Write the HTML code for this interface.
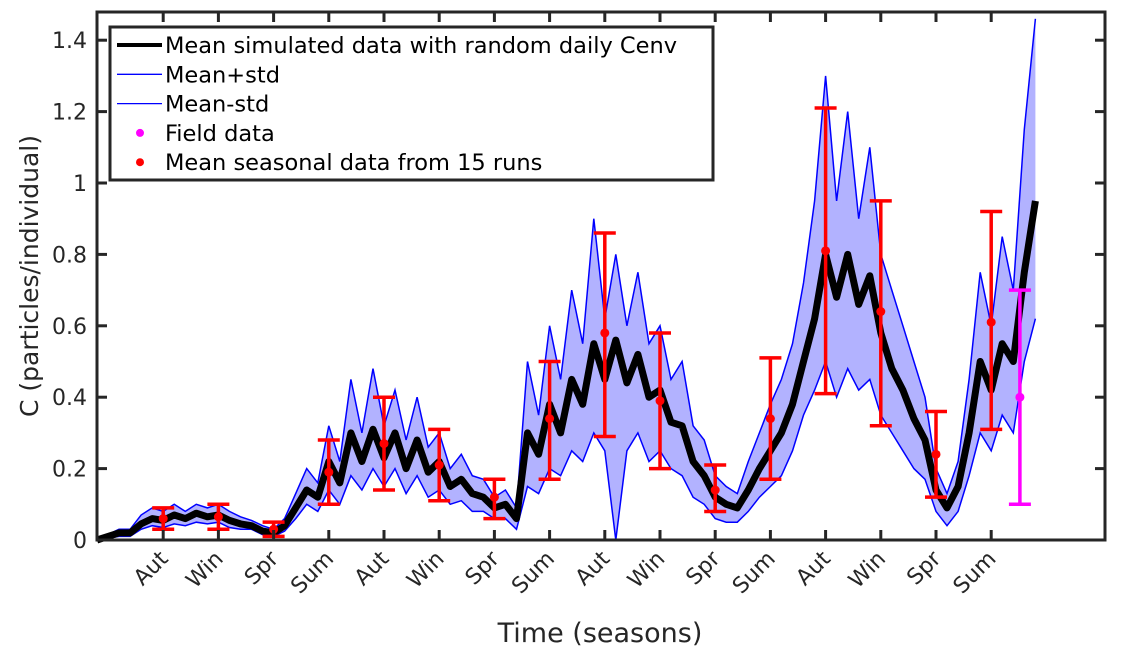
<!DOCTYPE html>
<html><head><meta charset="utf-8"><style>
body{margin:0;background:#fff;}
svg{display:block;font-family:"DejaVu Sans","Liberation Sans",sans-serif;}
</style></head><body>
<svg id="chart" width="1123" height="659" viewBox="0 0 1123 659">
<g id="marks"></g>
<g id="axes"></g>
</svg>
<script>
const seasonLabels=["Aut","Win","Spr","Sum","Aut","Win","Spr","Sum","Aut","Win","Spr","Sum","Aut","Win","Spr","Sum"];
const yTicks=[0,0.2,0.4,0.6,0.8,1,1.2,1.4];
const yTickLabels=["0","0.2","0.4","0.6","0.8","1","1.2","1.4"];
const lineStart=-0.2, lineStep=0.2;
const meanLine=[0.00,0.01,0.02,0.02,0.045,0.06,0.055,0.07,0.06,0.075,
0.065,0.07,0.055,0.045,0.04,0.025,0.02,0.04,0.09,0.14,
0.12,0.22,0.16,0.3,0.22,0.31,0.23,0.3,0.2,0.28,
0.19,0.22,0.15,0.17,0.13,0.12,0.09,0.1,0.06,0.3,
0.24,0.38,0.3,0.45,0.38,0.55,0.45,0.56,0.44,0.52,
0.4,0.42,0.33,0.32,0.22,0.18,0.12,0.1,0.09,0.14,
0.2,0.25,0.3,0.38,0.5,0.62,0.8,0.68,0.8,0.66,
0.74,0.58,0.48,0.42,0.34,0.28,0.14,0.09,0.15,0.3,
0.5,0.42,0.55,0.5,0.75,0.95];
const upperLine=[0.0,0.015,0.03,0.03,0.07,0.09,0.08,0.1,0.08,0.1,
0.09,0.1,0.08,0.065,0.055,0.04,0.03,0.06,0.13,0.2,
0.16,0.32,0.22,0.45,0.3,0.48,0.32,0.42,0.28,0.4,
0.26,0.3,0.2,0.24,0.18,0.17,0.12,0.14,0.09,0.5,
0.35,0.6,0.45,0.7,0.55,0.9,0.62,0.8,0.6,0.75,
0.55,0.6,0.45,0.5,0.32,0.28,0.18,0.15,0.13,0.22,
0.3,0.38,0.45,0.55,0.72,0.95,1.3,0.95,1.2,0.9,
1.1,0.8,0.7,0.6,0.5,0.4,0.2,0.13,0.22,0.45,
0.75,0.6,0.85,0.7,1.15,1.46];
const lowerLine=[0,0.005,0.01,0.01,0.03,0.04,0.035,0.045,0.04,0.05,
0.045,0.05,0.035,0.03,0.03,0.015,0.01,0.025,0.06,0.1,
0.08,0.14,0.1,0.18,0.14,0.2,0.15,0.2,0.13,0.18,
0.12,0.14,0.1,0.11,0.08,0.08,0.06,0.06,0.03,0.15,
0.13,0.2,0.18,0.25,0.22,0.3,0.25,0.0,0.25,0.3,
0.22,0.25,0.2,0.18,0.12,0.1,0.06,0.05,0.05,0.08,
0.12,0.15,0.18,0.25,0.35,0.42,0.5,0.4,0.48,0.42,
0.45,0.35,0.3,0.25,0.2,0.17,0.08,0.04,0.08,0.18,
0.3,0.25,0.35,0.3,0.5,0.62];
const seasonMeans=[0.06,0.065,0.03,0.19,0.27,0.21,0.12,0.34,0.58,0.39,0.14,0.34,0.81,0.64,0.24,0.61];
const seasonLow=[0.03,0.03,0.01,0.1,0.14,0.11,0.06,0.17,0.29,0.2,0.08,0.17,0.41,0.32,0.12,0.31];
const seasonHigh=[0.09,0.1,0.05,0.28,0.4,0.31,0.17,0.5,0.86,0.58,0.21,0.51,1.21,0.95,0.36,0.92];
const fieldX=[16.52];
const fieldMean=[0.40];
const fieldLow=[0.10];
const fieldHigh=[0.70];

const L=97,R=1105,T=12,B=540;
const X0=108,XS=55.2;
const xs=s=>X0+s*XS;
const ys=v=>B-v*(B-T)/1.479;
const NS="http://www.w3.org/2000/svg";
const marks=document.getElementById('marks'), axes=document.getElementById('axes');
function mk(tag,attrs,parent){const e=document.createElementNS(NS,tag);for(const k in attrs)e.setAttribute(k,attrs[k]);parent.appendChild(e);return e;}

function pts(arr){return arr.map((v,i)=>xs(lineStart+i*lineStep).toFixed(1)+' '+ys(v).toFixed(1));}
function pathOf(arr){return pts(arr).map((p,i)=>(i?'L':'M')+p).join(' ');}
const band=mk('path',{d:pathOf(upperLine)+' '+pts(lowerLine).reverse().map(p=>'L'+p).join(' ')+'Z',fill:'#0000ff','fill-opacity':0.3,stroke:'none'},marks);


const up=mk('path',{d:pathOf(upperLine),fill:'none',stroke:'#0000ff','stroke-width':1.5},marks);


const lo=mk('path',{d:pathOf(lowerLine),fill:'none',stroke:'#0000ff','stroke-width':1.5},marks);


const mn=mk('path',{d:pathOf(meanLine),fill:'none',stroke:'#000','stroke-width':7,'stroke-linejoin':'round'},marks);



function errbar(x,m,lw,hi,color,name){
  const g=mk('g',{},marks);
  
  
  const px=xs(x);
  mk('line',{x1:px,x2:px,y1:ys(lw),y2:ys(hi),stroke:color,'stroke-width':3.5},g);
  mk('line',{x1:px-11,x2:px+11,y1:ys(lw),y2:ys(lw),stroke:color,'stroke-width':3.5},g);
  mk('line',{x1:px-11,x2:px+11,y1:ys(hi),y2:ys(hi),stroke:color,'stroke-width':3.5},g);
  mk('circle',{cx:px,cy:ys(m),r:4.5,fill:color},g);
}
seasonMeans.forEach((m,i)=>errbar(i+1,m,seasonLow[i],seasonHigh[i],'#ff0000','seasonal-mean-bar-'+(i+1)));
fieldMean.forEach((m,i)=>errbar(fieldX[i],m,fieldLow[i],fieldHigh[i],'#ff00ff','field-data-bar'));

const fr=mk('rect',{x:L,y:T,width:R-L,height:B-T,fill:'none',stroke:'#262626','stroke-width':3},axes);


seasonLabels.forEach((lab,i)=>{
  const px=xs(i+1);
  mk('line',{x1:px,x2:px,y1:B,y2:B-10,stroke:'#262626','stroke-width':3},axes);
  mk('line',{x1:px,x2:px,y1:T,y2:T+10,stroke:'#262626','stroke-width':3},axes);
  const t=mk('text',{x:px+6,y:B+20,'font-size':22,fill:'#262626','text-anchor':'end',transform:`rotate(-45 ${px+6} ${B+20})`},axes);
  t.textContent=lab;
  
  
});
yTicks.forEach((v,i)=>{
  const py=ys(v);
  mk('line',{x1:L,x2:L+10,y1:py,y2:py,stroke:'#262626','stroke-width':3},axes);
  mk('line',{x1:R,x2:R-10,y1:py,y2:py,stroke:'#262626','stroke-width':3},axes);
  const t=mk('text',{x:87,y:py+8,'font-size':22,fill:'#262626','text-anchor':'end'},axes);
  t.textContent=yTickLabels[i];
  
  
});
const xt=mk('text',{x:600,y:642,'font-size':27,fill:'#262626','text-anchor':'middle'},axes);
xt.textContent='Time (seasons)';


const yt=mk('text',{x:0,y:0,'font-size':25,fill:'#262626','text-anchor':'middle',transform:'translate(38 276) rotate(-90)'},axes);
yt.textContent='C (particles/individual)';



const lg=mk('g',{},axes);


mk('rect',{x:110,y:27,width:603,height:153,fill:'#fff',stroke:'#262626','stroke-width':3},lg);
const entries=[["Mean simulated data with random daily Cenv","line","#000",4],["Mean+std","line","#0000ff",1.3],["Mean-std","line","#0000ff",1.3],["Field data","dot","#ff00ff",0],["Mean seasonal data from 15 runs","dot","#ff0000",0]];
entries.forEach((e,i)=>{
  const y=45+i*29.3;
  const g=mk('g',{},lg);
  
  
  if(e[1]==='line') mk('line',{x1:117,x2:162,y1:y,y2:y,stroke:e[2],'stroke-width':e[3]},g);
  else mk('circle',{cx:140,cy:y,r:4,fill:e[2]},g);
  const t=mk('text',{x:165,y:y+8,'font-size':22.5,fill:'#000'},g);
  t.textContent=e[0];
});
</script>
</body></html>
